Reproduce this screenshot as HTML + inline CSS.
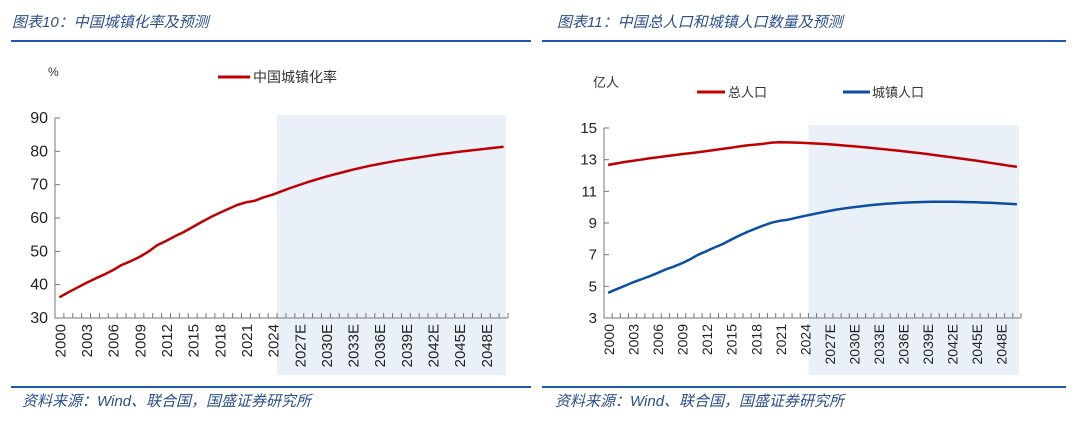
<!DOCTYPE html>
<html><head><meta charset="utf-8"><style>
body{margin:0;background:#fff;}
svg text{font-family:"Liberation Sans","Noto Sans CJK SC",sans-serif;}
.t{font-style:italic;fill:#2a4f8c;font-size:15px;}
</style></head><body>
<svg width="1080" height="422" xmlns="http://www.w3.org/2000/svg" id="root">
<text class="t" x="12" y="27">图表10：中国城镇化率及预测</text>
<text class="t" x="557" y="27">图表11：中国总人口和城镇人口数量及预测</text>
<rect x="11" y="40" width="520" height="2" fill="#1f5aa8"/>
<rect x="542" y="40" width="524" height="2" fill="#1f5aa8"/>
<rect x="11" y="386" width="520" height="2" fill="#1f5aa8"/>
<rect x="542" y="386" width="524" height="2" fill="#1f5aa8"/>
<text class="t" x="22" y="406">资料来源：Wind、联合国，国盛证券研究所</text>
<text class="t" x="555" y="406">资料来源：Wind、联合国，国盛证券研究所</text>
<g id="left"></g>
<g id="right"></g>
</svg>
<script>
const years=[];for(let y=2000;y<=2050;y++)years.push(y);
const urbanRate=[36.2,37.7,39.1,40.5,41.8,43.0,44.3,45.9,47.0,48.3,49.9,51.8,53.1,54.5,55.8,57.3,58.8,60.2,61.5,62.7,63.9,64.7,65.2,66.2,67.0,
68.0,69.0,69.9,70.8,71.6,72.4,73.1,73.8,74.5,75.1,75.7,76.2,76.7,77.2,77.6,78.0,78.4,78.8,79.2,79.5,79.9,80.2,80.5,80.8,81.1,81.4];
const totalPop=[12.67,12.76,12.85,12.92,13.00,13.08,13.14,13.21,13.28,13.35,13.41,13.47,13.54,13.61,13.68,13.75,13.83,13.90,13.95,14.00,14.08,14.10,14.09,14.08,14.06,
14.03,14.00,13.97,13.93,13.89,13.85,13.80,13.75,13.70,13.65,13.59,13.54,13.48,13.42,13.36,13.29,13.22,13.15,13.08,13.01,12.94,12.86,12.78,12.70,12.62,12.55];
const urbanPop=[4.59,4.81,5.02,5.24,5.43,5.62,5.83,6.06,6.24,6.45,6.70,6.99,7.21,7.45,7.67,7.93,8.19,8.43,8.64,8.84,9.02,9.14,9.21,9.33,9.44,
9.55,9.66,9.76,9.85,9.93,10.00,10.06,10.12,10.17,10.21,10.25,10.28,10.30,10.32,10.33,10.34,10.34,10.34,10.33,10.32,10.31,10.29,10.27,10.24,10.21,10.18];
const leftTicks=[30,40,50,60,70,80,90];
const rightTicks=[3,5,7,9,11,13,15];
const labelYears=[2000,2003,2006,2009,2012,2015,2018,2021,2024,2027,2030,2033,2036,2039,2042,2045,2048];
const NS="http://www.w3.org/2000/svg";
function mk(p,tag,a){const e=document.createElementNS(NS,tag);for(const k in a)e.setAttribute(k,a[k]);p.appendChild(e);return e;}
function chart(g,o){
  const n=years.length,bw=(o.x1-o.x0)/n;
  const X=i=>o.x0+(i+0.5)*bw;
  const Y=v=>o.y1-(v-o.ymin)/(o.ymax-o.ymin)*(o.y1-o.y0);
  const fi=years.indexOf(2025);
  const sh=mk(g,'rect',{x:o.x0+fi*bw,y:o.y0-3,width:(n-fi)*bw-2,height:375-o.y0+3,fill:'#eaf0f8'});
  
  
  const ax=mk(g,'path',{d:`M${o.x0},${o.y0}V${o.y1}H${o.x1}`,stroke:'#777',fill:'none','stroke-width':1});
  
  
  o.ticks.forEach(t=>{
    mk(g,'line',{x1:o.x0,x2:o.x0+5,y1:Y(t),y2:Y(t),stroke:'#777'});
    const tx=mk(g,'text',{x:o.x0-7,y:Y(t)+5,'text-anchor':'end','font-size':o.yfs,fill:'#222','font-family':o.yff});
    tx.textContent=t;
    
    
  });
  for(let i=0;i<=n;i++)mk(g,'line',{x1:o.x0+i*bw,x2:o.x0+i*bw,y1:o.y1,y2:o.y1-5,stroke:'#777'});
  labelYears.forEach(y=>{
    const i=years.indexOf(y),lab=y>2024?y+'E':''+y;
    const tx=mk(g,'text',{transform:`translate(${X(i)+6},${o.y1+6}) rotate(-90)`,'text-anchor':'end','font-size':o.xfs,fill:'#222'});
    tx.textContent=lab;
    
    
  });
  o.series.forEach(s=>{
    const l=mk(g,'path',{d:s.v.map((v,i)=>(i?'L':'M')+X(i).toFixed(1)+','+Y(v).toFixed(1)).join(''),stroke:s.c,'stroke-width':2.5,fill:'none','stroke-linejoin':'round'});
    
    
  });
}
const L=document.getElementById('left'),R=document.getElementById('right');
chart(L,{x0:55,x1:508,y0:118,y1:318,ymin:30,ymax:90,ticks:leftTicks,yfs:16,xfs:15,yff:'Liberation Sans',series:[{v:urbanRate,c:'#c00000',name:'urbanization-rate-line'}]});
chart(R,{x0:604,x1:1021,y0:128,y1:318,ymin:3,ymax:15,ticks:rightTicks,yfs:15,xfs:14,yff:'Liberation Serif',series:[{v:totalPop,c:'#c00000',name:'total-population-line'},{v:urbanPop,c:'#0b4ea2',name:'urban-population-line'}]});
function txt(p,x,y,s,fs,name){const t=mk(p,'text',{x:x,y:y,'font-size':fs,fill:'#333'});t.textContent=s;return t;}
function leg(p,x1,x2,y,c,name){const l=mk(p,'line',{x1:x1,x2:x2,y1:y,y2:y,stroke:c,'stroke-width':3});}
txt(L,48,76,'%',12,'y-unit-label');
leg(L,218,250,77,'#c00000','legend-swatch-urbanization');
txt(L,253,82,'中国城镇化率',14,'legend-label-urbanization');
txt(R,593,87,'亿人',13,'y-unit-label');
leg(R,697,725,92,'#c00000','legend-swatch-total');
txt(R,728,97,'总人口',13,'legend-label-total');
leg(R,843,870,92,'#0b4ea2','legend-swatch-urban');
txt(R,872,97,'城镇人口',13,'legend-label-urban');
</script>
</body></html>
